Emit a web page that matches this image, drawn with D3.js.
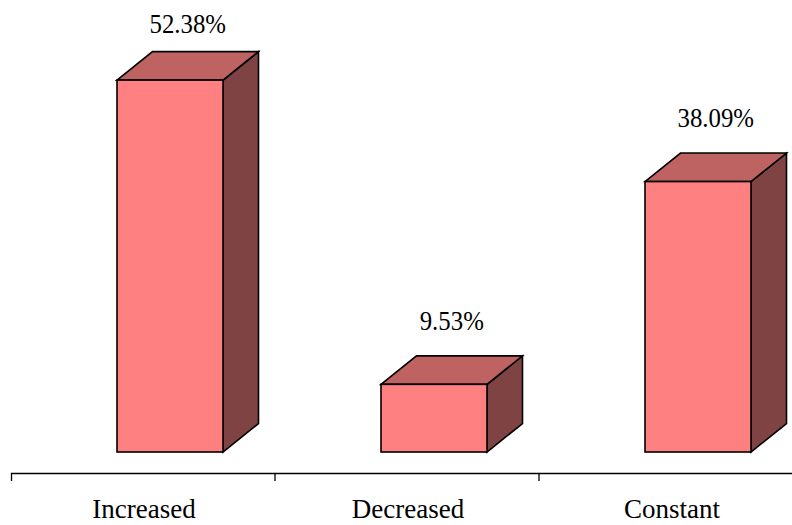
<!DOCTYPE html>
<html>
<head>
<meta charset="utf-8">
<script src="https://cdn.jsdelivr.net/npm/d3@7"></script>
<style>
  html, body { margin: 0; padding: 0; background: #fff; }
  svg { display: block; }
</style>
</head>
<body>
<svg id="chart" width="792" height="525"></svg>
<script>
// Share of respondents by change category
const categories = ["Increased", "Decreased", "Constant"];
const percentages = [52.38, 9.53, 38.09];
const valueLabels = ["52.38%", "9.53%", "38.09%"];

const SERIF = "'Liberation Serif', 'Times New Roman', serif";
const baseY = 452;       // floor of the bars (front face bottom)
const axisY = 473;       // category axis line
const depthX = 35.5, depthY = 28.5;   // 3D extrusion offset

const svg = d3.select("#chart");

const x = d3.scaleBand()
  .domain(categories)
  .range([11, 803])
  .paddingInner(0)
  .paddingOuter(0);

const y = d3.scaleLinear()
  .domain([0, 60])
  .range([baseY, baseY - 426]);

const colors = { front: "#FF8080", top: "#BF6262", side: "#804343" };
const barOffset = 106, barWidth = 106;

const data = categories.map((c, i) => ({ cat: c, value: percentages[i], label: valueLabels[i] }));

const bars = svg.append("g").selectAll("g.bar")
  .data(data)
  .join("g")
  .attr("class", "bar");

bars.each(function(d) {
  const g = d3.select(this);
  const x0 = x(d.cat) + barOffset;
  const x1 = x0 + barWidth;
  const yt = y(d.value);
  const yb = y(0);

  // side face
  g.append("path")
    .attr("d", `M${x1},${yt}L${x1 + depthX},${yt - depthY}L${x1 + depthX},${yb - depthY}L${x1},${yb}Z`)
    .attr("fill", colors.side).attr("stroke", "#000").attr("stroke-width", 1.6);
  // top face
  g.append("path")
    .attr("d", `M${x0},${yt}L${x0 + depthX},${yt - depthY}L${x1 + depthX},${yt - depthY}L${x1},${yt}Z`)
    .attr("fill", colors.top).attr("stroke", "#000").attr("stroke-width", 1.6);
  // front face
  g.append("rect")
    .attr("x", x0).attr("y", yt)
    .attr("width", barWidth).attr("height", yb - yt)
    .attr("fill", colors.front).attr("stroke", "#000").attr("stroke-width", 1.6);

  // value label centred over the box, kept inside the chart area
  const lx = (x0 + x1 + depthX) / 2;
  const ly = Math.max(yt - depthY - 26, 33);
  g.append("text")
    .attr("transform", `translate(${lx},${ly}) scale(0.92,1)`)
    .attr("text-anchor", "middle")
    .style("font-family", SERIF)
    .style("font-size", "27px")
    .style("fill", "#000")
    .text(d.label);
});

// category axis
const axis = d3.axisBottom(x).tickSize(0).tickSizeOuter(8);
const ax = svg.append("g")
  .attr("transform", `translate(0,${axisY})`)
  .call(axis);
ax.select(".domain").attr("stroke", "#000").attr("stroke-width", 1.3);
ax.selectAll(".tick text")
  .attr("y", 45).attr("dy", 0)
  .attr("dx", 1)
  .style("font-family", SERIF)
  .style("font-size", "27px")
  .style("fill", "#000");

// tick marks between categories
ax.selectAll("line.sep")
  .data(categories.slice(1))
  .join("line")
  .attr("class", "sep")
  .attr("x1", d => x(d)).attr("x2", d => x(d))
  .attr("y1", 0).attr("y2", 8)
  .attr("stroke", "#000").attr("stroke-width", 1.3);
</script>
</body>
</html>
